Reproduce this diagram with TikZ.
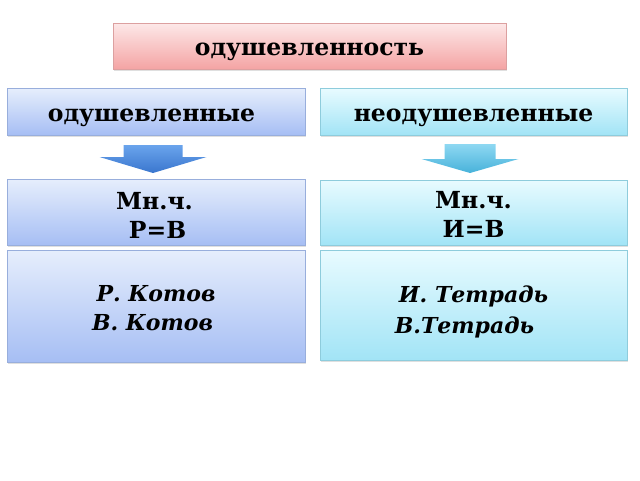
\documentclass[tikz,border=0pt]{standalone}
\usepackage{fontspec}
\setmainfont{DejaVu Serif}
\usetikzlibrary{shadows}
\definecolor{pinktop}{HTML}{FDE8E8}
\definecolor{pinkbottom}{HTML}{F4A4A4}
\definecolor{pinkborder}{HTML}{DCA0A0}
\definecolor{bluetop}{HTML}{E6EEFC}
\definecolor{bluebottom}{HTML}{A6BEF4}
\definecolor{blueborder}{HTML}{98AEDC}
\definecolor{cyantop}{HTML}{E8FBFF}
\definecolor{cyanbottom}{HTML}{A2E4F6}
\definecolor{cyanborder}{HTML}{8ECCDC}
\definecolor{arrowbluetop}{HTML}{6AA4EC}
\definecolor{arrowblue}{HTML}{3A76CE}
\definecolor{arrowcyantop}{HTML}{8ED8F2}
\definecolor{arrowcyan}{HTML}{48B2DA}
\colorlet{textcolor}{black}

\begin{document}
\begin{tikzpicture}[x=1pt, y=-1pt,
        box/.style={draw=#1border, line width=0.6pt, top color=#1top, bottom color=#1bottom,
                drop shadow={opacity=0.25, shadow xshift=1pt, shadow yshift=-1.5pt},
                inner sep=0pt, align=center, text=textcolor, text depth=0pt,
                font=\bfseries\fontsize{23.5}{29}\selectfont},
        blockarrow/.style={draw=none, top color=#1top, bottom color=#1}]
        \useasboundingbox (0,0) rectangle (640,480);

        \node (T) at (309.5,46) [box=pink, minimum width=393pt, minimum height=46pt, text height=18pt] {одушевленность};

        \node (A) at (156,111.5) [box=blue, minimum width=298pt, minimum height=47pt, text height=19pt] {одушевленные\hspace*{9pt}};
        \node (N) at (473.5,111.5) [box=cyan, minimum width=307pt, minimum height=47pt, text height=19pt] {неодушевленные};

        \node (AM) at (156,212) [box=blue, minimum width=298pt, minimum height=66pt, text height=53pt] {Мн.ч.\hspace*{3pt}\\ \hspace*{3pt}Р=В};
        \node (NM) at (473.5,212.5) [box=cyan, minimum width=307pt, minimum height=65pt, text height=49pt] {Мн.ч.\\ И=В};

        \node (AE) at (156,306) [box=blue, minimum width=298pt, minimum height=112pt, text height=48pt,
                font=\bfseries\itshape\fontsize{22}{29}\selectfont] {Р. Котов\\ В. Котов\hspace*{7pt}};
        \node (NE) at (473.5,305) [box=cyan, minimum width=307pt, minimum height=110pt, text height=57pt,
                font=\bfseries\itshape\fontsize{22}{31}\selectfont] {И. Тетрадь\\ В.Тетрадь\hspace*{18pt}};

        % arrows between the rows
        \coordinate (AD) at (153,145);
        \coordinate (ND) at (470,144);
        \shade [blockarrow=arrowblue] (AD) ++(-29.5,0) -- ++(59,0) -- ++(0,12) -- ++(24,0)
                -- ++(-53.5,16) -- ++(-53.5,-16) -- ++(24,0) -- cycle;
        \shade [blockarrow=arrowcyan] (ND) ++(-25.5,0) -- ++(51,0) -- ++(0,15) -- ++(23,0)
                -- ++(-48.5,14) -- ++(-48.5,-14) -- ++(23,0) -- cycle;
    \end{tikzpicture}
\end{document}
